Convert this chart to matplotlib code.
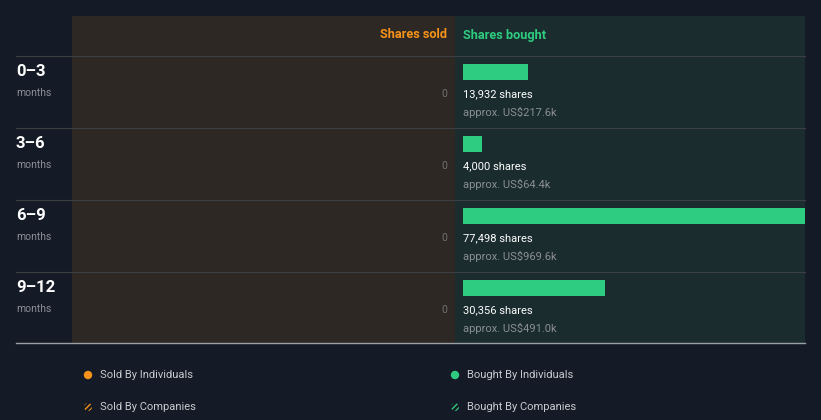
import numpy as np
import matplotlib.pyplot as plt
from matplotlib.patches import Rectangle, Circle

plt.rcParams['font.family'] = ['Roboto', 'DejaVu Sans']

periods = ["0\u20133", "3\u20136", "6\u20139", "9\u201312"]
sold = [0, 0, 0, 0]
bought = [13932, 4000, 77498, 30356]
bought_value = ["US$217.6k", "US$64.4k", "US$969.6k", "US$491.0k"]

BG = "#151b26"
SOLD_BG = "#2d2823"
BOUGHT_BG = "#1a2c2e"
ORANGE = "#f7931a"
GREEN = "#2ecc80"
GRID = "#3c4044"

W, H = 821, 420
fig = plt.figure(figsize=(W / 100, H / 100), dpi=100)
fig.patch.set_facecolor(BG)

# pixel-space axes for backgrounds and labels
ax = fig.add_axes([0, 0, 1, 1])
ax.set_xlim(0, W)
ax.set_ylim(H, 0)
ax.axis("off")

ax.add_patch(Rectangle((72, 16), 383, 327, color=SOLD_BG, lw=0))
ax.add_patch(Rectangle((455, 16), 350, 327, color=BOUGHT_BG, lw=0))

ax.text(447, 35, "Shares sold", color=ORANGE, fontsize=9.2, fontweight="bold",
        ha="right", va="center")
ax.text(463, 35, "Shares bought", color=GREEN, fontsize=9.2, fontweight="bold",
        ha="left", va="center")

row_top = 56
row_h = 72
for i, p in enumerate(periods):
    y0 = row_top + i * row_h
    ax.plot([16, 805], [y0, y0], color=GRID, lw=0.8)
    ax.text(16, y0 + 15, p, color="white", fontsize=12, fontweight="bold",
            ha="left", va="center")
    ax.text(16, y0 + 37, "months", color="#8a8f96", fontsize=7.5,
            ha="left", va="center")
    ax.text(447, y0 + 38, f"{sold[i]:,}", color="#6c6f73", fontsize=7.5,
            ha="right", va="center")
    ax.text(463, y0 + 38, f"{bought[i]:,} shares", color="white", fontsize=8,
            ha="left", va="center")
    ax.text(463, y0 + 56, f"approx. {bought_value[i]}", color="#8a8f96",
            fontsize=8, ha="left", va="center")
ax.plot([16, 805], [343, 343], color="#9aa0a6", lw=1)

# legend
leg = [(88, 375, ORANGE, False, "Sold By Individuals"),
       (88, 407, ORANGE, True, "Sold By Companies"),
       (455, 375, GREEN, False, "Bought By Individuals"),
       (455, 407, GREEN, True, "Bought By Companies")]
for x, y, c, hatched, label in leg:
    if hatched:
        ax.add_patch(Circle((x, y), 4, facecolor="none", edgecolor=c,
                            hatch="//////", lw=0))
    else:
        ax.add_patch(Circle((x, y), 4.2, color=c, lw=0))
    ax.text(x + 12, y + 0.5, label, color="#c8ccd0", fontsize=8, ha="left", va="center")

# bar axes for shares bought
bx = fig.add_axes([463 / W, (H - 343) / H, (805 - 463) / W, (343 - 56) / H])
bx.set_xlim(0, 72900)
bx.set_ylim(343, 56)
bx.axis("off")
ys = [row_top + i * row_h + 16 for i in range(len(bought))]
bx.barh(ys, bought, height=16, color=GREEN, align="center")

fig.savefig("out.png", dpi=100, facecolor=BG)
